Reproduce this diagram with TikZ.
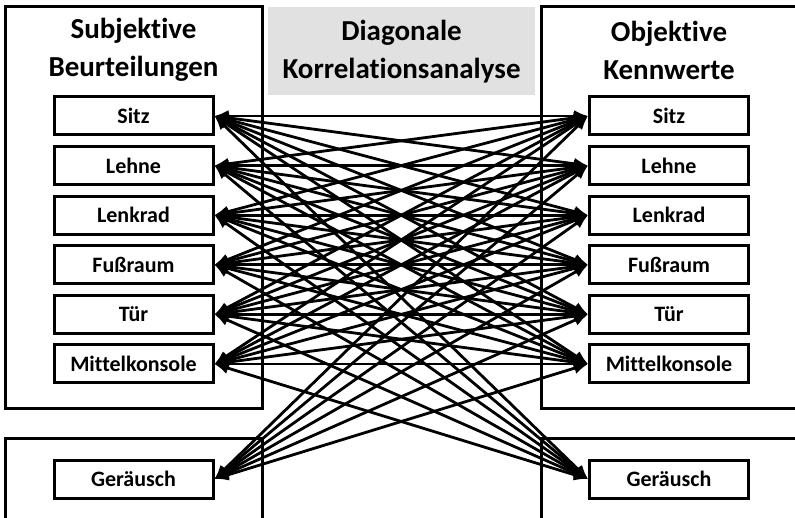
\documentclass[tikz,border=0pt]{standalone}
\usepackage{fontspec}
\setmainfont{Carlito}[Ligatures=NoCommon]
\usetikzlibrary{arrows.meta}
\definecolor{panel}{RGB}{225,225,225}

\tikzset{
  item/.style={draw, line width=3pt, fill=white, minimum width=159pt, minimum height=38pt, inner sep=0pt, font=\bfseries\fontsize{22}{22}\selectfont},
  group/.style={draw, line width=3pt},
  head/.style={align=center, font=\bfseries\fontsize{29}{38}\selectfont},
  link/.style={{Latex[length=14pt,width=12pt]}-{Latex[length=14pt,width=12pt]}, line width=2.8pt}
}

\begin{document}
\begin{tikzpicture}[x=1pt,y=-1pt]
    \useasboundingbox (0,0) rectangle (795,518);
    % frames
    \draw [group] (5,7) rectangle (262,408);
    \draw [group] (5,438) rectangle (262,540);
    \draw [group] (541,7) rectangle (810,408);
    \draw [group] (541,438) rectangle (810,540);
    \path [fill=panel] (268,7) rectangle (535,95);
    % titles
    \node [head] (subj) at (133.5,50) {Subjektive\\Beurteilungen};
    \node [head] (obj) at (669,50) {Objektive\\Kennwerte};
    \node [head] (diag) at (401.5,52) {Diagonale\\Korrelationsanalyse};
    % items
    \foreach \txt [count=\i] in {Sitz,Lehne,Lenkrad,Fußraum,Tür,Mittelkonsole}{
        \node [item] (l\i) at (133.5,{116+49.6*(\i-1)}) {\txt};
        \node [item] (r\i) at (669,{116+49.6*(\i-1)}) {\txt};
    }
    \node [item] (lg) at (133.5,479) {Geräusch};
    \node [item] (rg) at (669,479) {Geräusch};
    % links
    \foreach \i in {1,...,6}{
        \foreach \j in {1,...,6}
            \draw [link] (l\i.east) -- (r\j.west);
        \draw [link] (l\i.east) -- (rg.west);
        \draw [link] (lg.east) -- (r\i.west);
    }
\end{tikzpicture}
\end{document}
